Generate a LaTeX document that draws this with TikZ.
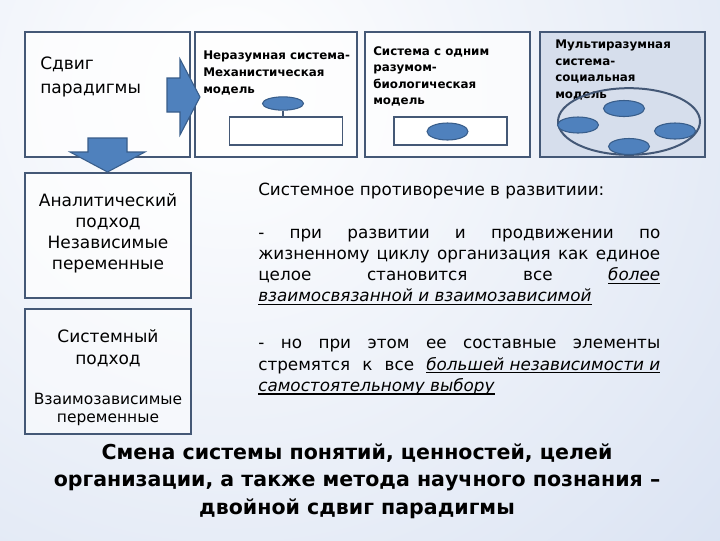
\documentclass[tikz,border=0pt]{standalone}
\usepackage{fontspec}
\setmainfont{DejaVu Sans}
\usetikzlibrary{shapes.geometric}
\setlength{\parindent}{0pt}

\definecolor{bgblue}{RGB}{196,210,235}
\definecolor{frameblue}{RGB}{68,88,118}
\definecolor{cellblue}{RGB}{79,129,189}
\definecolor{celledge}{RGB}{56,93,138}
\definecolor{greybox}{RGB}{214,222,236}

\newcommand{\fpx}[2]{\fontsize{#1}{#2}\selectfont}
\newcommand{\undr}[1]{\leavevmode\setbox0\hbox{\itshape #1}%
  \rlap{\rule[-2.4pt]{\wd0}{0.8pt}}\box0}

\tikzset{
  panel/.style={draw=frameblue, line width=1.5pt, fill=white, fill opacity=0.7,
    minimum width=123.75pt, minimum height=93.75pt, inner sep=0pt},
  slot/.style={draw=frameblue, line width=1.2pt, fill=white,
    minimum width=85pt, minimum height=21pt, inner sep=0pt},
  cell/.style={ellipse, draw=celledge, line width=0.8pt, fill=cellblue,
    minimum width=30.75pt, minimum height=12pt, inner sep=0pt},
  blockarrow/.style={draw=celledge, line width=0.8pt, fill=cellblue},
  lbl/.style={inner sep=0pt, text=black},
  modeltxt/.style={lbl, anchor=west, align=left, font=\fpx{8.9}{12.4}\bfseries}
}

\begin{document}
\begin{tikzpicture}[x=0.75pt, y=-0.75pt]
  \useasboundingbox (0, 0) rectangle (720, 540);
  \begin{scope}
    \clip (0, 0) rectangle (720, 540);
    \shade[inner color=white, outer color=bgblue] (230, 90) circle (1100);
  \end{scope}

  \node (shift)    at (107.5, 94.5) [panel] {};
  \node (mech)     at (276.0, 94.5) [panel, minimum width=121.5pt] {};
  \node (bio)      at (447.5, 94.5) [panel] {};
  \node (social)   at (622.5, 94.5) [panel, fill=greybox, fill opacity=1, line width=2pt] {};
  \node (analytic) at (108.0, 235.5) [panel, minimum width=124.5pt] {};
  \node (systemic) at (108.0, 371.5) [panel, minimum width=124.5pt, fill opacity=0.5] {};

  \node (shifttxt) at (40, 77) [lbl, anchor=west, align=left, font=\fpx{12.75}{18}]
    {Сдвиг\\парадигмы};
  \node (mechtxt) at (203, 73) [modeltxt]
    {Неразумная система-\\Механистическая\\модель};
  \node (biotxt) at (373, 76.5) [modeltxt]
    {Система с одним\\разумом-\\биологическая\\модель};
  \node (socialtxt) at (555, 70) [modeltxt, font=\fpx{8.9}{12.5}\bfseries]
    {Мультиразумная\\система-\\социальная\\модель};

  \node (mechrect) at (286.0, 131) [slot] {};
  \node (mechcell) at (283, 103.5) [cell, minimum height=10pt] {};
  \draw[frameblue, line width=0.8pt] (mechcell.south) -- (mechcell.south |- mechrect.north);

  \node (biorect) at (450.5, 131) [slot] {};
  \node (biocell) at (447.5, 131.5) [cell, minimum height=12.75pt] {};

  \node (crowd) at (629, 121.5) [ellipse, draw=frameblue, line width=1.5pt,
    minimum width=106.5pt, minimum height=50pt, inner sep=0pt] {};
  \node (cell1) at (624, 108.5) [cell] {};
  \node (cell2) at (578, 125) [cell] {};
  \node (cell3) at (675, 131) [cell] {};
  \node (cell4) at (629, 146.5) [cell] {};

  \draw[blockarrow] (167, 78) -- (180, 78) -- (180, 59) -- (200, 97)
    -- (180, 135) -- (180, 112) -- (167, 112) -- cycle;
  \draw[blockarrow] (88, 138) -- (127, 138) -- (127, 152) -- (145, 152)
    -- (107.5, 172) -- (70, 152) -- (88, 152) -- cycle;

  \node (analytictxt) at (108, 233.5) [lbl, align=center, font=\fpx{12.75}{15.9}]
    {Аналитический\\подход\\Независимые\\переменные};
  \node (systemictxt) at (108, 348) [lbl, align=center, font=\fpx{12.75}{16.5}]
    {Системный\\подход};
  \node (dependtxt) at (108, 409) [lbl, align=center, font=\fpx{11.6}{13.5}]
    {Взаимозависимые\\переменные};

  \node (conflict) at (258, 183) [lbl, anchor=north west, text width=301.5pt,
    align=justify, font=\fpx{12.6}{15.9}]
    {Системное противоречие в развитиии:\par
     \vspace{15.9pt}
     - при развитии и продвижении по\linebreak
     жизненному циклу организация как единое\linebreak
     целое становится все \undr{более}\linebreak
     \undr{взаимосвязанной и взаимозависимой}\par
     \vspace{19.5pt}
     - но при этом ее составные элементы\linebreak
     стремятся к все \undr{большей независимости и}\linebreak
     \undr{самостоятельному выбору}\par};

  \node (summary) at (357, 481) [lbl, align=center, font=\fpx{15.4}{20.5}\bfseries]
    {Смена системы понятий, ценностей, целей\\
     организации, а также метода научного познания –\\
     двойной сдвиг парадигмы};
\end{tikzpicture}
\end{document}
